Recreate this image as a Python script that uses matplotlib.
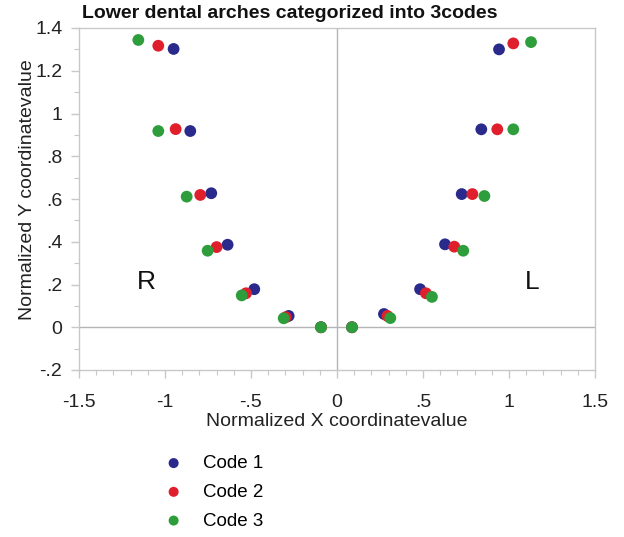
import matplotlib
matplotlib.use("Agg")
import matplotlib.pyplot as plt
from matplotlib.ticker import MultipleLocator, FixedLocator

plt.rcParams['font.family'] = ['Liberation Sans', 'DejaVu Sans']

title = "Lower dental arches categorized into 3codes"
x_label = "Normalized X coordinatevalue"
y_label = "Normalized Y coordinatevalue"
series_names = ["Code 1", "Code 2", "Code 3"]
series_colors = ["#2a2a8c", "#e01f2d", "#2e9e3c"]

code1_x = [-0.950, -0.853, -0.731, -0.636, -0.481, -0.281, -0.093,
           0.087, 0.273, 0.483, 0.628, 0.725, 0.839, 0.942]
code1_y = [1.302, 0.918, 0.627, 0.386, 0.178, 0.053, 0.000,
           0.000, 0.062, 0.178, 0.388, 0.623, 0.926, 1.300]
code2_x = [-1.039, -0.938, -0.795, -0.700, -0.529, -0.298, -0.093,
           0.087, 0.293, 0.517, 0.682, 0.787, 0.932, 1.025]
code2_y = [1.317, 0.927, 0.619, 0.375, 0.159, 0.047, 0.000,
           0.000, 0.053, 0.159, 0.377, 0.623, 0.926, 1.328]
code3_x = [-1.155, -1.039, -0.874, -0.752, -0.554, -0.310, -0.093,
           0.087, 0.310, 0.552, 0.734, 0.857, 1.025, 1.128]
code3_y = [1.344, 0.918, 0.611, 0.358, 0.149, 0.042, 0.000,
           0.000, 0.043, 0.142, 0.358, 0.614, 0.926, 1.334]

x_ticks = [-1.5, -1.0, -0.5, 0.0, 0.5, 1.0, 1.5]
x_tick_labels = ["-1.5", "-1", "-.5", "0", ".5", "1", "1.5"]
y_ticks = [-0.2, 0.0, 0.2, 0.4, 0.6, 0.8, 1.0, 1.2, 1.4]
y_tick_labels = ["-.2", "0", ".2", ".4", ".6", ".8", "1", "1.2", "1.4"]

fig = plt.figure(figsize=(6.24, 5.37), dpi=100)
ax = fig.add_axes([79/624, 1 - 370/537, (595-79)/624, (370-28)/537])

spine_col = "#c8c8c8"
ax.axvline(0, color="#b4b4b4", lw=1.0, zorder=1)
ax.axhline(0, color="#b4b4b4", lw=1.0, zorder=1)

xs = [code1_x, code2_x, code3_x]
ys = [code1_y, code2_y, code3_y]
handles = []
for sx, sy, c, n in zip(xs, ys, series_colors, series_names):
    h = ax.scatter(sx, sy, s=72, color=c, edgecolors='none', label=n, zorder=3)
    handles.append(h)

ax.set_xlim(-1.5, 1.5)
ax.set_ylim(-0.2, 1.4)
ax.xaxis.set_major_locator(FixedLocator(x_ticks))
ax.set_xticklabels(x_tick_labels)
ax.yaxis.set_major_locator(FixedLocator(y_ticks))
ax.set_yticklabels(y_tick_labels)
ax.xaxis.set_minor_locator(MultipleLocator(0.1))
ax.yaxis.set_minor_locator(MultipleLocator(0.1))
ax.tick_params(which='major', direction='out', length=6, width=1, color=spine_col,
               labelsize=14, labelcolor="#222222")
ax.tick_params(which='minor', direction='out', length=3.5, width=0.8, color=spine_col)
ax.tick_params(axis='x', which='major', pad=11)
ax.tick_params(axis='y', which='major', pad=6)
for s in ax.spines.values():
    s.set_color(spine_col)
    s.set_linewidth(1.0)

ax.set_xlabel(x_label, fontsize=14, color="#222222", labelpad=2)
ax.set_ylabel(y_label, fontsize=14, color="#222222")
ax.yaxis.set_label_coords(-0.083, 0.526)

fig.text(82/624, 1 - 14/537, title, fontsize=14, fontweight='bold',
         ha='left', va='center', color="#111111")

ax.text(-1.106, 0.213, "R", fontsize=19, ha='center', va='center', color="#111111")
ax.text(1.132, 0.213, "L", fontsize=19, ha='center', va='center', color="#111111")

leg = fig.legend(handles=handles, labels=series_names, loc='upper left',
                 bbox_to_anchor=(138/624, 1 - 438/537), frameon=False,
                 fontsize=13.5, handletextpad=0.55, labelspacing=0.62,
                 markerscale=0.85, scatterpoints=1)

fig.savefig("out.png", dpi=100, facecolor="white")
